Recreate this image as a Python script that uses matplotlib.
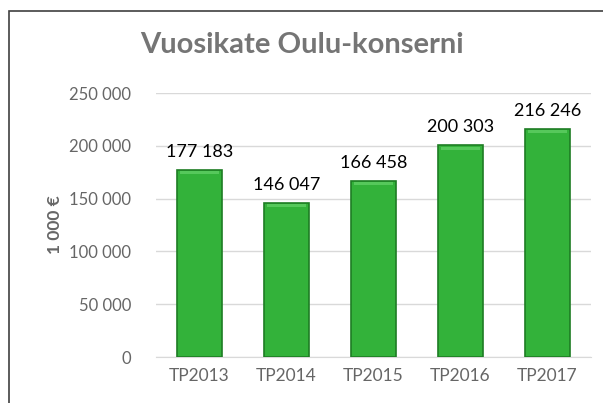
import matplotlib.pyplot as plt
from matplotlib.patches import Rectangle
from matplotlib.ticker import FuncFormatter

categories = ['TP2013', 'TP2014', 'TP2015', 'TP2016', 'TP2017']
values = [177183, 146047, 166458, 200303, 216246]
yticks = [0, 50000, 100000, 150000, 200000, 250000]

plt.rcParams['font.family'] = ['Lato', 'DejaVu Sans']

def fmt(v, pos=None):
    return '{:,}'.format(int(v)).replace(',', ' ')

fig = plt.figure(figsize=(6.03, 4.03), dpi=100)
fig.patches.append(Rectangle((9 / 603, -0.05), 1.0, 1 - 11 / 403 + 0.05,
                             transform=fig.transFigure, fill=False,
                             edgecolor='#404040', lw=1.2))

ax = fig.add_axes([156 / 603, 1 - 357 / 403, 435 / 603, 264 / 403])
x = range(len(categories))
bars = ax.bar(x, values, width=0.52, color='#33b23a', edgecolor='#1e7d24', lw=1.2, zorder=3)
for b in bars:
    # soft highlight along the top of each bar
    ax.bar(b.get_x() + b.get_width() / 2, 3000, bottom=b.get_height() - 4000,
           width=b.get_width() * 0.85, color='#56c85b', lw=0, zorder=4)

for xi, v in zip(x, values):
    ax.text(xi, v + 9500, fmt(v), ha='center', va='bottom', fontsize=13, color='black')

ax.set_ylim(0, 250000)
ax.set_xlim(-0.5, len(categories) - 0.5)
ax.set_yticks(yticks)
ax.yaxis.set_major_formatter(FuncFormatter(fmt))
ax.set_xticks(list(x))
ax.set_xticklabels(categories)
ax.tick_params(axis='y', length=0, labelsize=12, colors='#666666', pad=18)
ax.tick_params(axis='x', length=0, labelsize=12.5, colors='#666666', pad=8)
ax.grid(axis='y', color='#d9d9d9', lw=1, zorder=0)
for s in ['top', 'right', 'left']:
    ax.spines[s].set_visible(False)
ax.spines['bottom'].set_color('#d9d9d9')
ax.set_ylabel('1 000 €', fontsize=12.5, fontweight='bold', color='#666666', labelpad=4)

fig.text(0.5, 1 - 45 / 403, 'Vuosikate Oulu-konserni', ha='center', va='center',
         fontsize=21, fontweight='bold', color='#757575')

fig.savefig('out.png', dpi=100)
